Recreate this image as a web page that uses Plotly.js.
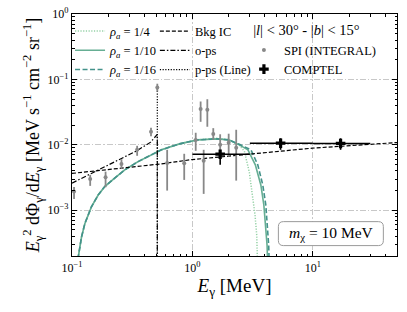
<!DOCTYPE html>
<html><head><meta charset="utf-8">
<script src="https://cdn.plot.ly/plotly-3.0.1.min.js"></script>
<style>html,body{margin:0;padding:0;background:#fff}</style>
</head><body><div id="chart" style="width:407px;height:312px"></div>
<script>
// ---- DM spectra (rho_a = 1/4, 1/10, 1/16) ----
const dmLowE = [0.112, 0.120, 0.128, 0.145, 0.165, 0.187, 0.226, 0.274, 0.354, 0.457, 0.553, 0.78, 1.1];
const dmLowF = [1.8e-4, 3.9e-4, 6.3e-4, 1.13e-3, 1.71e-3, 2.30e-3, 3.09e-3, 4.14e-3, 5.55e-3, 7.03e-3, 8.4e-3, 1.035e-2, 1.19e-2];
const dm4TailE  = [1.6, 2.0, 2.45, 2.70, 2.97, 3.16, 3.31, 3.42, 3.47];
const dm4TailF  = [1.26e-2, 1.2e-2, 9.8e-3, 8.0e-3, 3.8e-3, 1.71e-3, 8.5e-4, 4.2e-4, 1.6e-4];
const dm10TailE = [1.6, 2.0, 2.45, 2.89, 3.33, 3.70, 3.92, 4.07, 4.17, 4.21];
const dm10TailF = [1.235e-2, 1.19e-2, 1.0e-2, 8.4e-3, 4.95e-3, 2.44e-3, 1.2e-3, 5.9e-4, 2.9e-4, 1.6e-4];
const dm16TailE = [1.6, 2.0, 2.45, 3.06, 3.49, 3.84, 4.07, 4.21, 4.30, 4.34];
const dm16TailF = [1.235e-2, 1.19e-2, 1.02e-2, 8.4e-3, 4.95e-3, 2.44e-3, 1.2e-3, 5.9e-4, 2.9e-4, 1.6e-4];

// ---- Background IC ----
const bkgE = [0.1, 0.553, 0.944, 2.97, 9.9, 50];
const bkgF = [3.66e-3, 5.12e-3, 5.89e-3, 7.28e-3, 8.9e-3, 1.085e-2];

// ---- o-ps continuum ----
const opsE = [0.1, 0.16, 0.25, 0.34, 0.45, 0.50, 0.511, 0.511];
const opsF = [2.6e-3, 4.0e-3, 6.0e-3, 8.0e-3, 1.1e-2, 1.35e-2, 1.45e-2, 1e-4];

// ---- p-ps line ----
const ppsE = [0.511, 0.511];
const ppsF = [1e-4, 7.5e-2];

// ---- SPI (INTEGRAL) ----
const spiE  = [0.104, 0.1416, 0.19, 0.2575, 0.3475, 0.453, 0.511, 0.617, 0.855, 1.065, 1.17, 1.24, 1.33, 1.49, 1.70, 2.0, 2.31];
const spiF  = [1.93e-3, 3.0e-3, 3.2e-3, 5.1e-3, 8.4e-3, 1.58e-2, 7.5e-2, 5.3e-3, 5.25e-3, 1.19e-2, 3.52e-2, 5.7e-3, 3.44e-2, 1.47e-2, 1.0e-2, 1.08e-2, 9.0e-3];
const spiHi = [2.27e-3, 3.48e-3, 3.9e-3, 6.04e-3, 9.66e-3, 1.82e-2, 8.6e-2, 8.4e-3, 7.3e-3, 1.53e-2, 4.6e-2, 8.4e-3, 4.98e-2, 1.8e-2, 1.45e-2, 1.48e-2, 1.7e-2];
const spiLo = [1.49e-3, 2.36e-3, 2.25e-3, 4.3e-3, 6.8e-3, 1.35e-2, 6.5e-2, 2.0e-3, 2.91e-3, 8.1e-3, 2.25e-2, 1.78e-3, 1.89e-2, 1.19e-2, 6.6e-3, 6.6e-3, 2.84e-3];

// ---- COMPTEL ----
const comE   = [1.7, 5.4, 17.0];
const comElo = [1.0, 3.0, 10.0];
const comEhi = [3.0, 10.0, 30.0];
const comF   = [7.2e-3, 1.06e-2, 1.05e-2];
const comFhi = [8.3e-3, 1.26e-2, 1.26e-2];
const comFlo = [4.95e-3, 8.4e-3, 8.4e-3];

// ---- ticks ----
const xTickVals = [0.1, 1, 10];
const xTickText = ['10<sup>−1</sup>', '10<sup>0</sup>', '10<sup>1</sup>'];
const yTickVals = [1e-3, 1e-2, 1e-1, 1];
const yTickText = ['10<sup>−3</sup>', '10<sup>−2</sup>', '10<sup>−1</sup>', '10<sup>0</sup>'];

function minorVals(lo, hi) {
  const out = [];
  for (let d = -5; d <= 3; d++) for (let m = 2; m <= 9; m++) {
    const v = m * Math.pow(10, d);
    if (v >= lo * 0.999 && v <= hi * 1.001) out.push(v);
  }
  return out;
}

const green4 = '#95d1a6', green10 = '#66ae93', green16 = '#43928a';
const DASH = '4px,2px', DASHDOT = '5px,2px,1.5px,2px', DOT = '1.2px,1.5px';

const traces = [
  {x: dmLowE.concat(dm4TailE), y: dmLowF.concat(dm4TailF), mode: 'lines', name: '<i>ρ</i><sub><i>a</i></sub> = 1/4',
   line: {color: green4, width: 1.5, dash: DOT}, legend: 'legend'},
  {x: dmLowE.concat(dm10TailE), y: dmLowF.concat(dm10TailF), mode: 'lines', name: '<i>ρ</i><sub><i>a</i></sub> = 1/10',
   line: {color: green10, width: 1.6}, legend: 'legend'},
  {x: dmLowE.concat(dm16TailE), y: dmLowF.concat(dm16TailF), mode: 'lines', name: '<i>ρ</i><sub><i>a</i></sub> = 1/16',
   line: {color: green16, width: 1.6, dash: '5px,2.5px'}, legend: 'legend'},
  {x: bkgE, y: bkgF, mode: 'lines', name: 'Bkg IC', line: {color: 'black', width: 1.2, dash: DASH}, legend: 'legend2'},
  {x: opsE, y: opsF, mode: 'lines', name: 'o-ps', line: {color: 'black', width: 1.2, dash: DASHDOT}, legend: 'legend2'},
  {x: ppsE, y: ppsF, mode: 'lines', name: 'p-ps (Line)', line: {color: 'black', width: 1.2, dash: DOT}, legend: 'legend2'},
  {x: spiE, y: spiF, mode: 'markers', name: 'SPI (INTEGRAL)', legend: 'legend3',
   marker: {color: '#888888', size: 4, symbol: 'circle'},
   error_y: {type: 'data', symmetric: false, array: spiHi.map((h, i) => h - spiF[i]), arrayminus: spiLo.map((l, i) => spiF[i] - l),
             color: '#888888', thickness: 1.8, width: 0}},
  {x: comE, y: comF, mode: 'markers', name: 'COMPTEL', legend: 'legend3',
   marker: {color: 'black', size: 8, symbol: 'cross'},
   error_x: {type: 'data', symmetric: false, array: comEhi.map((h, i) => h - comE[i]), arrayminus: comElo.map((l, i) => comE[i] - l),
             color: 'black', thickness: 1.6, width: 0},
   error_y: {type: 'data', symmetric: false, array: comFhi.map((h, i) => h - comF[i]), arrayminus: comFlo.map((l, i) => comF[i] - l),
             color: 'black', thickness: 1.6, width: 0}}
];

const axCommon = {
  type: 'log', showline: true, linecolor: 'black', linewidth: 1.2, mirror: 'allticks',
  ticks: 'inside', ticklen: 5, tickwidth: 1, tickcolor: 'black',
  showgrid: true, gridcolor: '#c8c8c8', griddash: '6px,2px,1.5px,2px', gridwidth: 1, zeroline: false,
  tickmode: 'array', tickfont: {size: 12, color: 'black'}
};

const bx0 = 0.635, bx1 = 0.958, by0 = 0.043, by1 = 0.142, rx = 0.0154, ry = 0.0207;
const boxPath = `M ${bx0+rx},${by0} L ${bx1-rx},${by0} Q ${bx1},${by0} ${bx1},${by0+ry} L ${bx1},${by1-ry} Q ${bx1},${by1} ${bx1-rx},${by1} L ${bx0+rx},${by1} Q ${bx0},${by1} ${bx0},${by1-ry} L ${bx0},${by0+ry} Q ${bx0},${by0} ${bx0+rx},${by0} Z`;

const layout = {
  width: 407, height: 312,
  margin: {l: 72, r: 10, t: 14, b: 56},
  paper_bgcolor: 'white', plot_bgcolor: 'white',
  font: {family: '"Liberation Serif", "DejaVu Serif", serif', color: 'black', size: 12},
  showlegend: true,
  xaxis: Object.assign({}, axCommon, {
    range: [-1, Math.log10(50)], tickvals: xTickVals, ticktext: xTickText,
    minor: {tickmode: 'array', tickvals: minorVals(0.1, 50), ticks: 'inside', ticklen: 2.5, tickcolor: 'black', showgrid: false},
    title: {text: '<i>E</i><sub>γ</sub> [MeV]', font: {size: 19}, standoff: 4}
  }),
  yaxis: Object.assign({}, axCommon, {
    range: [Math.log10(2e-4), 0], tickvals: yTickVals, ticktext: yTickText,
    minor: {tickmode: 'array', tickvals: minorVals(2e-4, 1), ticks: 'inside', ticklen: 2.5, tickcolor: 'black', showgrid: false},
    title: {text: '<i>E</i><sub>γ</sub><sup>2</sup> dΦ<sub>γ</sub>/d<i>E</i><sub>γ</sub> [MeV s<sup>−1</sup> cm<sup>−2</sup> sr<sup>−1</sup>]', font: {size: 18}, standoff: 3}
  }),
  legend: {x: -0.006, y: 0.99, xanchor: 'left', yanchor: 'top', bgcolor: 'rgba(0,0,0,0)', font: {size: 12.5}},
  legend2: {x: 0.255, y: 0.99, xanchor: 'left', yanchor: 'top', bgcolor: 'rgba(0,0,0,0)', font: {size: 12.5}},
  legend3: {x: 0.529, y: 0.99, xanchor: 'left', yanchor: 'top', bgcolor: 'rgba(0,0,0,0)', font: {size: 12.5},
            title: {text: '\u00a0\u00a0|<i>l</i>| < 30° - |<i>b</i>| < 15°', font: {size: 14.5}, side: 'top'}},
  shapes: [{type: 'path', xref: 'paper', yref: 'paper', path: boxPath, line: {color: '#9a9a9a', width: 1}, fillcolor: 'white', layer: 'above'}],
  annotations: [{xref: 'paper', yref: 'paper', x: 0.797, y: 0.092, xanchor: 'center', yanchor: 'middle', showarrow: false,
                 text: '<i>m</i><sub>χ</sub> = 10 MeV', font: {size: 15.5}}]
};

Plotly.newPlot('chart', traces, layout, {displayModeBar: false, staticPlot: true});
</script></body></html>
